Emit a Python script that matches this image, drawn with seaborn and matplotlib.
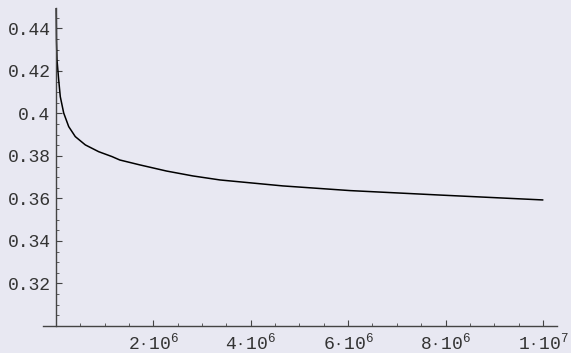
import numpy as np
import pandas as pd
import matplotlib
matplotlib.use("Agg")
import matplotlib.pyplot as plt
import seaborn as sns
from matplotlib.ticker import FixedLocator, MultipleLocator

# values
x_vals = [0.004e6, 0.010e6, 0.0205e6, 0.055e6, 0.088e6, 0.158e6, 0.261e6, 0.396e6,
          0.602e6, 0.877e6, 1.15e6, 1.31e6, 1.72e6, 2.27e6, 2.81e6, 3.37e6,
          4.66e6, 6.04e6, 7.89e6, 10.0e6]
y_vals = [0.4496, 0.4346, 0.4252, 0.4158, 0.4079, 0.4002, 0.3938, 0.3891,
          0.3852, 0.3820, 0.3797, 0.3781, 0.3758, 0.3729, 0.3706, 0.3687,
          0.3659, 0.3637, 0.3616, 0.3593]

x_ticks = [2e6, 4e6, 6e6, 8e6, 1e7]
x_tick_labels = [r"$2\cdot10^{6}$", r"$4\cdot10^{6}$", r"$6\cdot10^{6}$",
                 r"$8\cdot10^{6}$", r"$1\cdot10^{7}$"]
y_ticks = [0.32, 0.34, 0.36, 0.38, 0.40, 0.42, 0.44]
y_tick_labels = ["0.32", "0.34", "0.36", "0.38", "0.4", "0.42", "0.44"]

df = pd.DataFrame({"x": x_vals, "y": y_vals})

sns.set_style("white")
plt.rcParams["font.family"] = ["Liberation Mono", "DejaVu Sans Mono"]
plt.rcParams["mathtext.fontset"] = "custom"
plt.rcParams["mathtext.rm"] = "Liberation Mono"
plt.rcParams["mathtext.it"] = "Liberation Mono"
plt.rcParams["mathtext.default"] = "regular"

bg = "#E8E8F2"
fig = plt.figure(figsize=(5.71, 3.53), dpi=100, facecolor=bg)
ax = fig.add_axes([43 / 571, 1 - 326 / 353, (557 - 43) / 571, (326 - 8) / 353])
ax.set_facecolor(bg)

sns.lineplot(data=df, x="x", y="y", ax=ax, color="black", linewidth=1.1)

ax.set_xlim(-0.267e6, 10.29e6)
ax.set_ylim(0.30, 0.4496)

for s in ["top", "right"]:
    ax.spines[s].set_visible(False)
ax.spines["left"].set_position(("data", 0))
for s in ["left", "bottom"]:
    ax.spines[s].set_color("#444444")
    ax.spines[s].set_linewidth(1.0)

ax.xaxis.set_major_locator(FixedLocator(x_ticks))
ax.set_xticklabels(x_tick_labels)
ax.xaxis.set_minor_locator(MultipleLocator(0.5e6))
ax.yaxis.set_major_locator(FixedLocator(y_ticks))
ax.set_yticklabels(y_tick_labels)
ax.yaxis.set_minor_locator(MultipleLocator(0.005))

ax.tick_params(which="both", bottom=True, left=True, top=False, right=False)
ax.tick_params(which="major", direction="in", length=4, width=0.8, color="#444444",
               labelsize=13, labelcolor="#333333")
ax.tick_params(which="minor", direction="in", length=2, width=0.6, color="#444444")
ax.tick_params(axis="y", which="major", pad=4)
ax.tick_params(axis="x", which="major", pad=5)

ax.set_xlabel("")
ax.set_ylabel("")

fig.savefig("out.png", dpi=100, facecolor=bg)
